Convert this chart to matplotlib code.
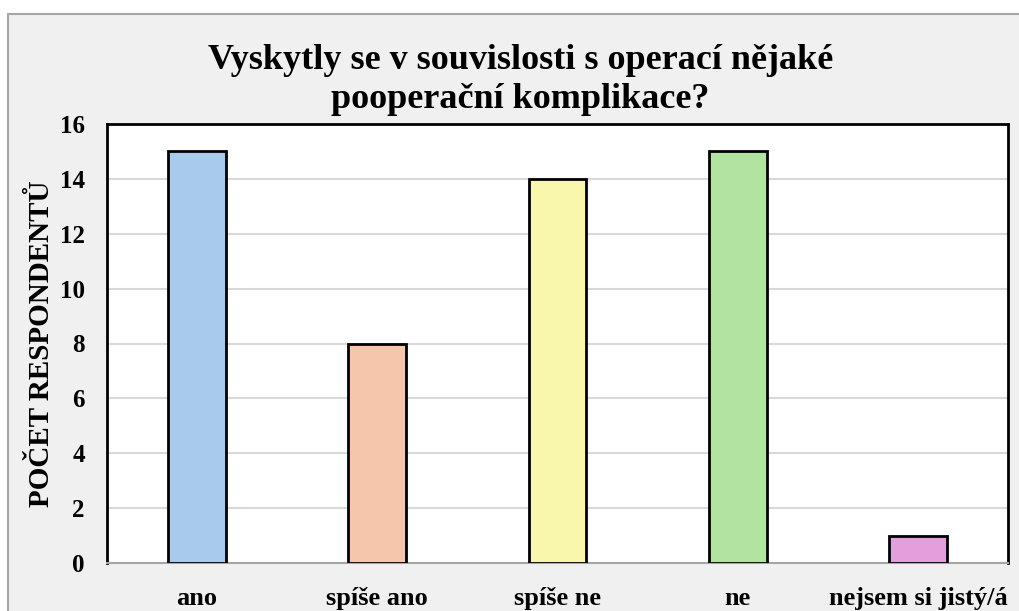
import matplotlib.pyplot as plt
from matplotlib.patches import Rectangle

# data
kategorie = ["ano", "spíše ano", "spíše ne", "ne", "nejsem si jistý/á"]
pocet = [15, 8, 14, 15, 1]
barvy = ["#A9CBEB", "#F5C6AC", "#F9F7AB", "#B3E3A1", "#E39EDB"]
y_ticks = [0, 2, 4, 6, 8, 10, 12, 14, 16]

plt.rcParams['font.family'] = ['Liberation Serif', 'DejaVu Serif']
plt.rcParams['font.weight'] = 'bold'

fig = plt.figure(figsize=(10.2, 6.11), dpi=100)
fig.patch.set_facecolor("white")

# seda plocha grafu (presahuje pres okraj)
bg = Rectangle((8 / 1020, -0.1), 1.1, (611 - 14) / 611 + 0.1,
               transform=fig.transFigure, facecolor="#F0F0F0",
               edgecolor="#A6A6A6", linewidth=1.5, zorder=-10)
fig.patches.append(bg)

ax = fig.add_axes([107 / 1020, 1 - 563 / 611, (1008 - 107) / 1020, (563 - 124) / 611])
ax.set_facecolor("white")

x = range(len(kategorie))
ax.bar(x, pocet, width=0.32, color=barvy, edgecolor="black", linewidth=2, zorder=3)

ax.set_xlim(-0.5, len(kategorie) - 0.5)
ax.set_ylim(0, 16)
ax.set_yticks(y_ticks)
ax.set_xticks(list(x))
ax.set_xticklabels(kategorie, fontsize=19, fontweight="bold")
ax.tick_params(axis="y", labelsize=18, length=0, pad=16)
ax.tick_params(axis="x", length=0, pad=17)
ax.grid(axis="y", color="#D9D9D9", linewidth=1.5, zorder=0)

for s in ["left", "top", "right"]:
    ax.spines[s].set_color("black")
    ax.spines[s].set_linewidth(2)
ax.spines["bottom"].set_color("#A6A6A6")
ax.spines["bottom"].set_linewidth(1.5)

ax.set_ylabel("POČET RESPONDENTŮ", fontsize=21, fontweight="bold", labelpad=3)

fig.text(0.51, 0.869, "Vyskytly se v souvislosti s operací nějaké\npooperační komplikace?",
         ha="center", va="center", fontsize=26, fontweight="bold", linespacing=1.25)

fig.savefig("out.png", dpi=100)
